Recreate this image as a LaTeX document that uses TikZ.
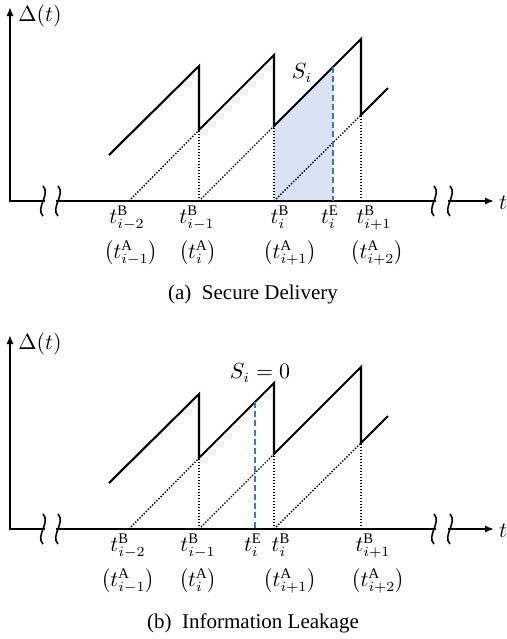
\documentclass[tikz,border=0pt]{standalone}
\usepackage{fontspec}
\setmainfont{Liberation Serif}
\usetikzlibrary{arrows.meta}
\definecolor{shadeblue}{RGB}{218,227,243}
\definecolor{dashblue}{RGB}{68,114,196}
\tikzset{
 axisline/.style={line width=0.9pt,{Latex[length=4.5pt,width=3.6pt]}-{Latex[length=4.5pt,width=3.6pt]}},
 saw/.style={line width=1.05pt,line join=miter},
 dots/.style={line width=0.7pt,dash pattern=on 0.7pt off 0.8pt},
 edash/.style={line width=1pt,draw=dashblue,dash pattern=on 3pt off 1.6pt},
 brk/.style={line width=0.8pt},
 lbl/.style={inner sep=0pt,anchor=base,font=\fontsize{10.5}{12}\selectfont},
 captxt/.style={inner sep=0pt,font=\fontsize{10.5}{12}\selectfont}
}
\newcommand\mypanel[1]{%
 \coordinate (#1O) at (10,201);
 \coordinate (#1Y) at (10,7);
 \coordinate (#1X) at (494,201);
 \draw[axisline] (#1Y) -- (#1O) -- (#1X);
 \fill[white] (45,197) rectangle (56,205);
 \fill[white] (436,197) rectangle (448,205);
 \foreach \bx in {43,58,434,450}{
   \draw[brk] (\bx,186) .. controls (\bx+8,194) and (\bx-8,208) .. (\bx,216);
 }
 \node[lbl,anchor=center] (#1dl) at (40,16) {$\Delta(t)$};
 \node[lbl,anchor=center] (#1tl) at (503,203) {$t$};
 \coordinate (#1g1) at (129,201);
 \coordinate (#1g2) at (199,201);
 \coordinate (#1g3) at (274,201);
 \coordinate (#1g4) at (361,201);
 \coordinate (#1p1) at (109,155);
 \coordinate (#1p2) at (199,66);
 \coordinate (#1p3) at (199,130);
 \coordinate (#1p4) at (274,55);
 \coordinate (#1p5) at (274,126);
 \coordinate (#1p6) at (361,39);
 \coordinate (#1p7) at (361,115);
 \coordinate (#1p8) at (388,88);
 \draw[dots] (#1g1) -- (#1p3);
 \draw[dots] (#1g2) -- (#1p3);
 \draw[dots] (#1g2) -- (#1p5);
 \draw[dots] (#1g3) -- (#1p5);
 \draw[dots] (#1g3) -- (#1p7);
 \draw[dots] (#1g4) -- (#1p7);
 \draw[saw] (#1p1) -- (#1p2) -- (#1p3) -- (#1p4) -- (#1p5) -- (#1p6) -- (#1p7) -- (#1p8);
}
\begin{document}
\begin{tikzpicture}[x=0.5pt,y=-0.5pt]
\useasboundingbox (0,0) rectangle (507,639);
% ---------- panel (a)
\fill[shadeblue] (274,201) -- (274,126) -- (333,67) -- (333,201) -- cycle;
\mypanel{a}
\coordinate (aEt) at (333,67);
\coordinate (aEb) at (333,201);
\draw[edash] (aEt) -- (aEb);
\node[lbl,anchor=center] (aS) at (302,73) {$S_i$};
\node[lbl] (aL1) at (127,223) {$t^{\mathrm{B}}_{i-2}$};
\node[lbl] (aL2) at (197,223) {$t^{\mathrm{B}}_{i-1}$};
\node[lbl] (aL3) at (280,223) {$t^{\mathrm{B}}_{i}$};
\node[lbl] (aL4) at (330,223) {$t^{\mathrm{E}}_{i}$};
\node[lbl] (aL5) at (374,223) {$t^{\mathrm{B}}_{i+1}$};
\node[lbl] (aM1) at (131,258) {$\left(t^{\mathrm{A}}_{i-1}\right)$};
\node[lbl] (aM2) at (198,258) {$\left(t^{\mathrm{A}}_{i}\right)$};
\node[lbl] (aM3) at (290,258) {$\left(t^{\mathrm{A}}_{i+1}\right)$};
\node[lbl] (aM4) at (377,258) {$\left(t^{\mathrm{A}}_{i+2}\right)$};
\node[captxt] (aCap) at (253,294) {(a)\ \ Secure Delivery};
% ---------- panel (b)
\begin{scope}[shift={(0,328)}]
\mypanel{b}
\coordinate (bEt) at (255,74);
\coordinate (bEb) at (255,201);
\draw[edash] (bEt) -- (bEb);
\node[lbl,anchor=center] (bS) at (260,45) {$S_i=0$};
\node[lbl] (bL1) at (128,223) {$t^{\mathrm{B}}_{i-2}$};
\node[lbl] (bL2) at (198,223) {$t^{\mathrm{B}}_{i-1}$};
\node[lbl] (bL4) at (253,223) {$t^{\mathrm{E}}_{i}$};
\node[lbl] (bL3) at (281,223) {$t^{\mathrm{B}}_{i}$};
\node[lbl] (bL5) at (373,223) {$t^{\mathrm{B}}_{i+1}$};
\node[lbl] (bM1) at (128,258) {$\left(t^{\mathrm{A}}_{i-1}\right)$};
\node[lbl] (bM2) at (198,258) {$\left(t^{\mathrm{A}}_{i}\right)$};
\node[lbl] (bM3) at (290,258) {$\left(t^{\mathrm{A}}_{i+1}\right)$};
\node[lbl] (bM4) at (378,258) {$\left(t^{\mathrm{A}}_{i+2}\right)$};
\node[captxt] (bCap) at (253,295) {(b)\ \ Information Leakage};
\end{scope}
\end{tikzpicture}
\end{document}
